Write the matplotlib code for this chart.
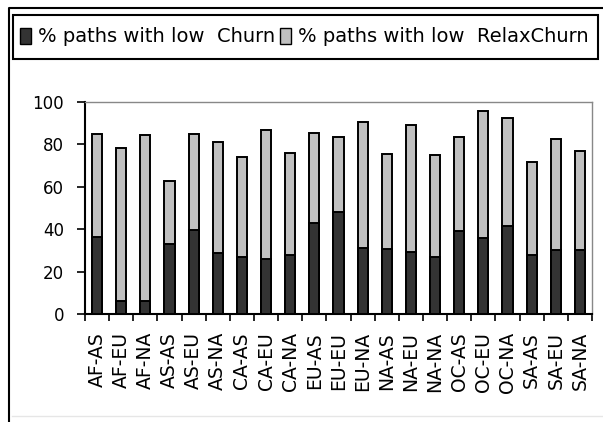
import matplotlib.pyplot as plt
from matplotlib.patches import Rectangle, Patch
from matplotlib.lines import Line2D
import numpy as np

plt.rcParams['font.family'] = ['DejaVu Sans']

regions = ['AF-AS', 'AF-EU', 'AF-NA', 'AS-AS', 'AS-EU', 'AS-NA', 'CA-AS',
           'CA-EU', 'CA-NA', 'EU-AS', 'EU-EU', 'EU-NA', 'NA-AS', 'NA-EU',
           'NA-NA', 'OC-AS', 'OC-EU', 'OC-NA', 'SA-AS', 'SA-EU', 'SA-NA']
# % paths with low Churn
churn = [36.5, 6, 6, 33, 39.4, 28.7, 27, 26, 27.9, 42.7, 47.9,
         31.3, 30.6, 29.4, 26.9, 39.2, 35.7, 41.7, 27.9, 30.4, 30.4]
# % paths with low RelaxChurn (total height)
relax = [84.7, 78.4, 84.6, 62.8, 84.7, 81, 74, 87, 76, 85.4, 83.6,
         90.7, 75.7, 89, 74.8, 83.6, 95.9, 92.3, 71.5, 82.7, 76.7]

dark = '#333333'
light = '#c0c0c0'

fig = plt.figure(figsize=(6.03, 4.22), dpi=100)
W, H = 603, 422
ax = fig.add_axes([85 / W, 1 - 314 / H, (592 - 85) / W, (314 - 102) / H])

x = np.arange(len(regions))
ax.bar(x, relax, width=0.42, color=light, edgecolor='black', linewidth=1.4, zorder=2)
ax.bar(x, churn, width=0.42, color=dark, edgecolor='black', linewidth=1.4, zorder=3)

ax.set_xlim(-0.5, len(regions) - 0.5)
ax.set_ylim(0, 100)
ax.set_yticks([0, 20, 40, 60, 80, 100])
ax.tick_params(axis='y', labelsize=12, length=6, width=1.2, direction='out', pad=9)

ax.set_xticks(x)
ax.set_xticklabels(regions, rotation=90, fontsize=13.5)
ax.tick_params(axis='x', length=0, pad=13)
ax.set_xticks(np.arange(len(regions) + 1) - 0.5, minor=True)
ax.tick_params(axis='x', which='minor', length=5, width=1.2, direction='out')

for s in ['left', 'bottom']:
    ax.spines[s].set_linewidth(1.5)
    ax.spines[s].set_color('black')
for s in ['top', 'right']:
    ax.spines[s].set_linewidth(1)
    ax.spines[s].set_color('#888888')

# outer chart border (only left and top show) and legend frame
fig.lines.append(Line2D([9 / W, 9 / W, 1.0], [0.0, 1 - 8 / H, 1 - 8 / H],
                        transform=fig.transFigure, color='black', linewidth=1.5))
fig.lines.append(Line2D([12 / W, 1.0], [1 - 416 / H, 1 - 416 / H],
                        transform=fig.transFigure, color='#e6e6e6', linewidth=1))
fig.patches.append(Rectangle((13 / W, 1 - 59 / H), (598 - 13) / W, 44 / H,
                             transform=fig.transFigure, fill=False,
                             edgecolor='black', linewidth=1.5))

handles = [Patch(facecolor=dark, edgecolor='black', linewidth=1),
           Patch(facecolor=light, edgecolor='black', linewidth=1)]
fig.legend(handles, ['% paths with low  Churn', '% paths with low  RelaxChurn'],
           loc='center left', bbox_to_anchor=(20 / W, 1 - 37 / H), ncol=2, frameon=False,
           fontsize=14, handlelength=0.55, handleheight=0.9, handletextpad=0.35,
           columnspacing=0.3, borderpad=0, borderaxespad=0)

fig.savefig('out.png', dpi=100)
